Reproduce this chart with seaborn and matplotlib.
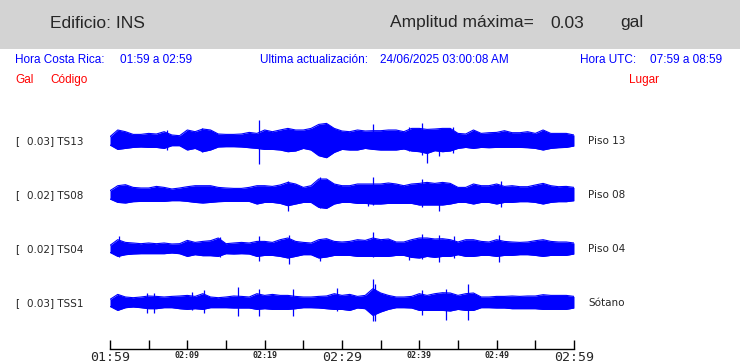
import matplotlib
matplotlib.use("Agg")
import matplotlib.pyplot as plt
from matplotlib.patches import Rectangle
import seaborn as sns
import pandas as pd

# ---------------- data ----------------
codes = ["TS13", "TS08", "TS04", "TSS1"]
places = ["Piso 13", "Piso 08", "Piso 04", "Sótano"]
max_amp = [0.03, 0.02, 0.02, 0.03]
tick_labels = ["01:59", "02:09", "02:19", "02:29", "02:39", "02:49", "02:59"]
minutes = list(range(61))

# envelope (upper / lower excursion) read once per minute
ts13_up = [4.0, 10.7, 9.0, 6.3, 6.3, 7.3, 6.7, 9.0, 5.7, 5.0, 10.7, 9.0, 11.7, 10.7, 6.7, 6.3, 6.3, 6.7, 8.3, 7.3,
           10.7, 9.0, 10.7, 12.3, 10.7, 10.7, 12.3, 16.3, 17.3, 12.3, 9.7, 9.0, 10.7, 9.7, 10.0, 10.0, 10.7, 10.7, 9.0, 12.3,
           12.3, 11.3, 11.7, 12.3, 12.3, 7.3, 6.7, 10.7, 7.3, 8.0, 8.3, 10.0, 8.0, 8.0, 9.0, 7.3, 10.7, 7.3, 7.3, 7.3, 5.7]
ts13_dn = [4.3, 8.7, 7.7, 6.7, 6.3, 6.7, 6.7, 7.7, 5.0, 5.0, 9.3, 7.7, 11.0, 9.3, 6.3, 6.0, 6.0, 6.3, 7.0, 7.7,
           8.7, 8.7, 9.3, 11.0, 10.3, 7.7, 9.3, 15.0, 17.0, 11.7, 8.7, 9.3, 9.3, 7.7, 8.7, 9.3, 9.3, 9.3, 8.3, 10.3,
           11.0, 12.7, 10.0, 11.0, 10.3, 7.7, 6.7, 7.7, 6.7, 7.0, 6.7, 6.7, 6.7, 6.7, 7.0, 7.7, 9.3, 7.7, 7.0, 6.7, 5.3]
ts08_up = [4.0, 9.0, 10.0, 7.3, 6.7, 6.7, 8.3, 7.3, 5.7, 6.7, 8.0, 9.0, 9.0, 9.0, 7.3, 6.7, 6.3, 6.3, 7.3, 9.0,
           9.0, 8.3, 9.7, 12.3, 10.7, 7.3, 9.0, 15.7, 15.7, 10.7, 9.0, 9.0, 10.7, 10.7, 10.7, 10.7, 11.7, 10.7, 9.0, 10.7,
           11.3, 12.3, 11.3, 12.3, 11.3, 7.3, 7.3, 10.7, 9.0, 9.0, 10.7, 8.3, 9.0, 8.0, 8.0, 9.7, 11.3, 9.0, 8.0, 8.3, 7.3]
ts08_dn = [4.3, 7.7, 8.3, 7.0, 6.7, 6.7, 6.7, 6.7, 6.0, 6.0, 6.7, 7.7, 8.3, 7.7, 7.0, 6.7, 6.7, 6.7, 6.7, 9.3,
           7.7, 7.7, 8.7, 11.0, 9.3, 7.7, 7.7, 12.7, 13.7, 9.3, 7.7, 7.7, 8.7, 8.7, 9.3, 9.3, 8.7, 8.7, 8.7, 8.7,
           10.3, 10.3, 10.3, 10.3, 9.3, 7.7, 7.7, 9.3, 7.7, 7.7, 9.3, 7.7, 7.7, 7.0, 7.0, 7.7, 9.3, 7.7, 7.0, 7.0, 6.0]
ts04_up = [3.3, 9.0, 6.3, 5.7, 5.0, 5.7, 5.0, 5.7, 4.7, 5.0, 8.3, 6.3, 7.3, 8.0, 10.7, 5.0, 5.7, 6.3, 5.7, 7.3,
           7.3, 6.3, 9.0, 10.7, 7.3, 6.3, 5.7, 9.0, 10.0, 7.3, 6.7, 7.3, 9.0, 8.3, 10.7, 9.0, 9.7, 6.7, 6.7, 9.0,
           10.7, 10.7, 9.7, 10.0, 9.0, 6.7, 9.0, 9.0, 7.3, 6.7, 9.0, 7.3, 6.7, 6.3, 6.7, 8.0, 9.0, 7.3, 6.7, 6.7, 5.7]
ts04_dn = [3.7, 7.7, 6.0, 5.3, 5.0, 5.0, 5.0, 5.0, 4.3, 5.0, 7.7, 6.0, 7.0, 7.0, 7.7, 5.0, 5.3, 5.0, 5.3, 7.7,
           6.7, 6.7, 7.7, 9.3, 7.7, 6.0, 6.0, 9.3, 8.3, 6.7, 6.7, 6.7, 7.7, 7.7, 7.7, 7.7, 7.7, 6.7, 6.7, 8.7,
           9.3, 7.7, 8.7, 7.7, 7.7, 6.0, 7.7, 7.7, 6.7, 6.7, 7.7, 6.7, 6.7, 6.0, 6.0, 6.7, 7.7, 6.7, 6.7, 6.7, 5.3]
tss1_up = [3.3, 8.3, 5.7, 5.0, 5.7, 6.7, 6.3, 5.7, 6.3, 6.7, 7.3, 6.3, 9.0, 5.7, 5.0, 5.7, 6.7, 6.3, 5.7, 9.0,
           7.3, 8.3, 7.3, 7.3, 6.3, 5.7, 5.7, 6.3, 6.7, 9.0, 7.3, 8.3, 6.3, 7.3, 14.0, 9.7, 7.3, 5.7, 5.7, 6.3,
           9.0, 7.3, 9.0, 10.0, 9.7, 7.3, 9.0, 9.7, 5.7, 5.7, 6.3, 6.3, 6.7, 6.3, 6.7, 6.7, 8.0, 7.3, 7.3, 7.3, 6.3]
tss1_dn = [3.7, 7.7, 5.0, 4.3, 5.0, 6.0, 6.0, 5.0, 5.0, 6.0, 6.7, 6.0, 6.7, 5.0, 5.0, 5.0, 5.3, 5.3, 5.3, 6.7,
           6.0, 6.7, 6.7, 6.7, 6.0, 5.0, 5.0, 5.3, 6.0, 6.7, 6.7, 7.7, 5.3, 6.0, 12.7, 9.3, 6.7, 5.0, 5.0, 5.3,
           7.7, 7.7, 7.7, 7.7, 8.3, 6.7, 7.7, 7.7, 5.0, 5.0, 5.3, 5.3, 6.0, 6.0, 6.0, 6.0, 6.7, 6.7, 6.7, 6.7, 5.3]

# isolated spikes: time (min), upward and downward excursion
ts13_spk_t = [7.4, 11.9, 19.3, 34.05, 38.7, 40.3, 41.0, 42.6, 44.4]
ts13_spk_up = [10.7, 13.0, 20.7, 16.7, 13.3, 17.3, 11.0, 12.0, 13.3]
ts13_spk_dn = [9.3, 11.7, 23.7, 8.0, 10.0, 14.3, 22.0, 15.0, 12.7]
ts08_spk_t = [23.0, 27.2, 33.3, 34.05, 40.3, 42.5, 50.5]
ts08_spk_up = [14.0, 17.3, 10.0, 17.3, 15.7, 11.0, 13.3]
ts08_spk_dn = [16.0, 13.0, 11.7, 10.0, 12.7, 16.0, 12.7]
ts04_spk_t = [1.2, 14.2, 19.3, 23.1, 27.1, 34.05, 38.7, 40.3, 42.5, 44.5, 50.3]
ts04_spk_up = [12.3, 11.7, 12.3, 13.3, 10.0, 16.3, 9.0, 14.7, 14.0, 12.3, 13.3]
ts04_spk_dn = [8.0, 8.0, 12.7, 15.0, 12.7, 8.0, 11.0, 10.0, 13.7, 9.0, 13.7]
tss1_spk_t = [4.8, 5.7, 10.6, 12.1, 16.5, 19.3, 23.7, 29.4, 34.05, 34.25, 40.4, 43.5, 46.3]
tss1_spk_up = [9.7, 9.7, 10.7, 12.3, 15.7, 13.3, 13.3, 14.7, 23.3, 19.0, 12.3, 13.3, 18.3]
tss1_spk_dn = [10.0, 10.0, 7.0, 10.0, 13.7, 13.7, 13.7, 8.7, 18.7, 18.7, 12.7, 17.7, 17.0]

ups = [ts13_up, ts08_up, ts04_up, tss1_up]
dns = [ts13_dn, ts08_dn, ts04_dn, tss1_dn]
spk_t = [ts13_spk_t, ts08_spk_t, ts04_spk_t, tss1_spk_t]
spk_up = [ts13_spk_up, ts08_spk_up, ts04_spk_up, tss1_spk_up]
spk_dn = [ts13_spk_dn, ts08_spk_dn, ts04_spk_dn, tss1_spk_dn]

# ---------------- figure ----------------
sns.set_style("white")
plt.rcParams["font.family"] = ["DejaVu Sans"]

W, H = 740, 363
fig = plt.figure(figsize=(W / 100, H / 100), dpi=100)
fig.patch.set_facecolor("white")


def fx(x):
    return x / W


def fy(y):
    return 1 - y / H


BLUE = "#0000ff"
LS = "Liberation Sans"

# header band
fig.add_artist(Rectangle((0, fy(49)), 1, 49 / H, transform=fig.transFigure,
                         facecolor="#d3d3d3", edgecolor="none", zorder=0))
for x, s in [(50, "Edificio: INS"), (390, "Amplitud máxima="),
             (550, f"{max(max_amp):.2f}"), (620, "gal")]:
    fig.text(fx(x), fy(23), s, fontsize=12.5, family=LS, va="center")

# info rows
info = [(15, "Hora Costa Rica:"), (120, "01:59 a 02:59"),
        (260, "Ultima actualización:"), (380, "24/06/2025 03:00:08 AM"),
        (580, "Hora UTC:"), (650, "07:59 a 08:59")]
for x, s in info:
    fig.text(fx(x), fy(60), s, fontsize=8.5, family=LS, color=BLUE, va="center")
for x, s in [(15, "Gal"), (50, "Código"), (629, "Lugar")]:
    fig.text(fx(x), fy(80), s, fontsize=8.5, family=LS, color="#ff0000", va="center")

# traces axes
ax = fig.add_axes([fx(110), fy(349), (574 - 110) / W, (349 - 110) / H])
ax.set_facecolor("none")
ax.set_xlim(0, 60)
ax.set_ylim(349, 110)
centers = [140.7, 194.7, 248.7, 302.7]

for i in range(4):
    c = centers[i]
    df = pd.DataFrame({"minute": minutes,
                       "upper": [c - u for u in ups[i]],
                       "lower": [c + d for d in dns[i]]})
    sns.lineplot(data=df, x="minute", y="upper", ax=ax, color=BLUE, lw=0.8)
    sns.lineplot(data=df, x="minute", y="lower", ax=ax, color=BLUE, lw=0.8)
    ax.fill_between(df["minute"], df["upper"], df["lower"], color=BLUE, lw=0)
    ax.vlines(spk_t[i], [c - u for u in spk_up[i]], [c + d for d in spk_dn[i]],
              color=BLUE, lw=0.9)
    fig.text(fx(15), fy(c), "[", fontsize=7.5, va="center")
    fig.text(fx(27), fy(c), f"{max_amp[i]:.2f}] {codes[i]}", fontsize=7.5, va="center")
    fig.text(fx(588), fy(c), places[i], fontsize=7.5, va="center")

ax.set_xlabel("")
ax.set_ylabel("")
ax.set_yticks([])
for s in ["top", "left", "right"]:
    ax.spines[s].set_visible(False)
ax.spines["bottom"].set_color("black")
ax.spines["bottom"].set_linewidth(1.0)

ax.set_xticks(list(range(0, 61, 10)), tick_labels)
ax.set_xticks(list(range(5, 60, 10)), minor=True)
ax.tick_params(axis="x", which="both", direction="in", length=6.5, width=1.0,
               color="black", pad=1.5, bottom=True)
for j, lab in enumerate(ax.get_xticklabels()):
    lab.set_family("DejaVu Sans Mono")
    if j in (0, 3, 6):
        lab.set_fontsize(9.5)
    else:
        lab.set_fontsize(6)
        lab.set_fontweight("bold")

fig.savefig("out.png", dpi=100)
